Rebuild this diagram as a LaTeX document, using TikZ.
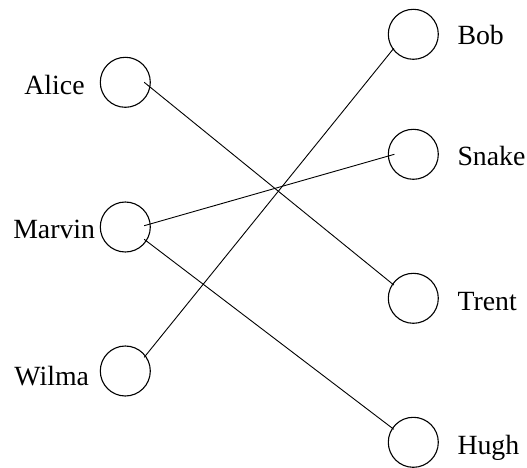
\documentclass[tikz,border=0pt]{standalone}
\usepackage{fontspec}
\setmainfont{Liberation Serif}
\usetikzlibrary{calc}
\begin{document}
\begin{tikzpicture}[x=1pt,y=-1pt,
  vertex/.style={rectangle,minimum size=37.4pt,inner sep=0pt},
  ring/.style={line width=1.1pt},
  edge/.style={line width=0.9pt},
  lbl/.style={font=\fontsize{27.8}{30}\selectfont,inner sep=0pt}]
\useasboundingbox (0,0) rectangle (527,468);

% vertices: left column
\node[vertex] (Alice)  at (125.3,82.3) {};
\node[vertex] (Marvin) at (125.3,227)  {};
\node[vertex] (Wilma)  at (125.3,371)  {};
% vertices: right column
\node[vertex] (Bob)    at (413.3,34.3)  {};
\node[vertex] (Snake)  at (413.3,154.3) {};
\node[vertex] (Trent)  at (413.3,298.3) {};
\node[vertex] (Hugh)   at (413.3,442.3) {};

\foreach \v in {Alice,Marvin,Wilma,Bob,Snake,Trent,Hugh}
  \draw[ring] (\v.center) circle[radius=25pt];

% names
\node[lbl,anchor=base] (lAlice)  at (54.5,95)    {Alice};
\node[lbl,anchor=base] (lMarvin) at (54.2,238.3) {Marvin};
\node[lbl,anchor=base] (lWilma)  at (51.7,385)   {Wilma};
\node[lbl,anchor=base west] (lBob)   at (457.3,45)    {Bob};
\node[lbl,anchor=base west] (lSnake) at (457.3,165)   {Snake};
\node[lbl,anchor=base west] (lTrent) at (457.3,310.7) {Trent};
\node[lbl,anchor=base west] (lHugh)  at (457.3,454)   {Hugh};

% pairings
\draw[edge] (Alice.east) -- ($(Trent.west)+(-0.6,-13.3)$);
\draw[edge] ($(Marvin.east)+(0,-1.3)$) -- (Snake.west);
\draw[edge] ($(Marvin.east)+(0,12.3)$) -- ($(Hugh.west)+(-0.6,-13)$);
\draw[edge] ($(Wilma.east)+(0,-13.7)$) -- ($(Bob.west)+(-0.6,14)$);
\end{tikzpicture}
\end{document}
